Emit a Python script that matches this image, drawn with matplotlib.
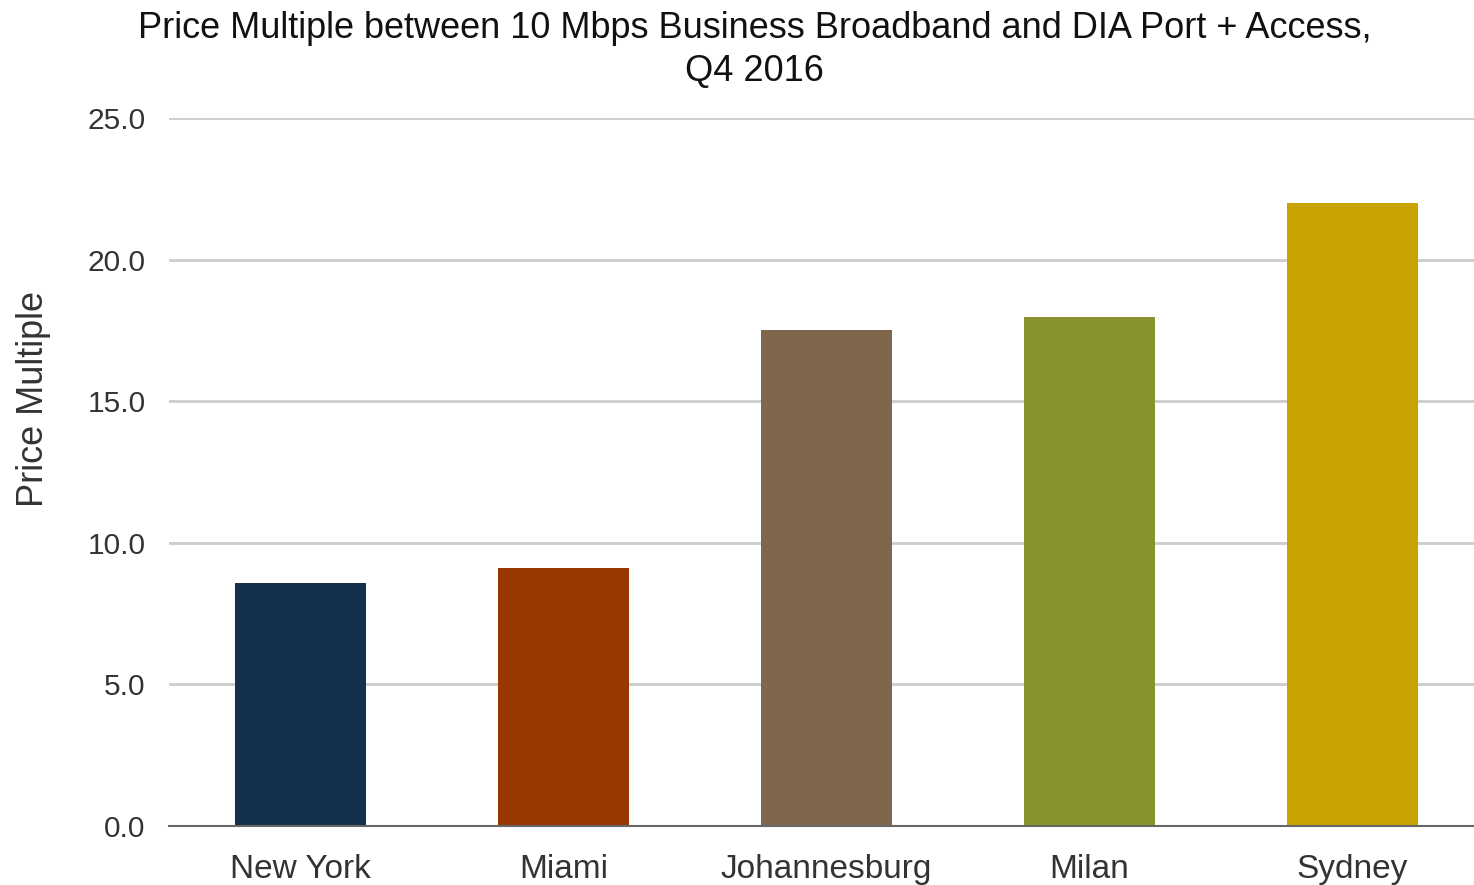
import numpy as np
import matplotlib.pyplot as plt

plt.rcParams['font.family'] = ['Liberation Sans', 'DejaVu Sans']

cities = ['New York', 'Miami', 'Johannesburg', 'Milan', 'Sydney']
multiples = [8.57, 9.1, 17.5, 17.98, 21.98]
colors = ['#13304c', '#983800', '#7f674b', '#889330', '#c9a400']
yticks = [0, 5, 10, 15, 20, 25]

fig = plt.figure(figsize=(14.74, 8.85), dpi=100)
# axes runs a little past the right edge, as in the original
ax = fig.add_axes([0.1147, 0.0667, 0.8921, 0.80])

x = np.arange(len(cities))
ax.bar(x, multiples, width=0.5, color=colors, zorder=3)

ax.set_xlim(-0.5, len(cities) - 0.5)
ax.set_ylim(0, 25)
ax.set_yticks(yticks)
ax.set_yticklabels(['%.1f' % v for v in yticks])
ax.set_xticks(x)
ax.set_xticklabels(cities)
ax.tick_params(axis='y', length=0, labelsize=21.5, colors='#333333', pad=17)
ax.tick_params(axis='x', length=0, labelsize=24, colors='#333333', pad=20)

ax.grid(axis='y', color='#cccccc', linewidth=2, zorder=0)
for s in ['top', 'right', 'left']:
    ax.spines[s].set_visible(False)
ax.spines['bottom'].set_color('#666666')
ax.spines['bottom'].set_linewidth(1.5)
ax.spines['bottom'].set_zorder(4)

fig.text(0.023, 1 - 399 / 885, 'Price Multiple', rotation=90, fontsize=26,
         color='#333333', ha='center', va='center')
fig.suptitle('Price Multiple between 10 Mbps Business Broadband and DIA Port + Access,\nQ4 2016',
             fontsize=26, color='#111111', x=0.512, y=0.988, va='top', linespacing=1.32)

fig.savefig('out.png', dpi=100)
